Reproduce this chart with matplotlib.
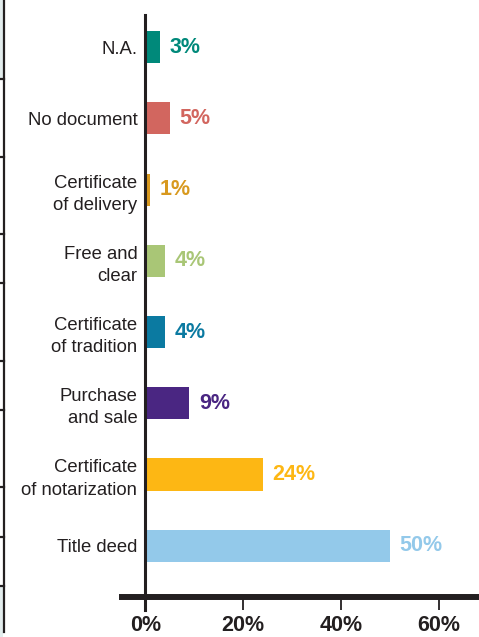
import matplotlib.pyplot as plt
from matplotlib.lines import Line2D
from matplotlib.patches import Rectangle

# Share of households by type of property document
categories = ['Title deed', 'Certificate\nof notarization', 'Purchase\nand sale',
              'Certificate\nof tradition', 'Free and\nclear', 'Certificate\nof delivery',
              'No document', 'N.A.']
values = [50, 24, 9, 4, 4, 1, 5, 3]
colors = ['#93C9EA', '#FDB714', '#4A2682', '#0B7AA1', '#A9C676', '#D8991E',
          '#D2665F', '#00897A']
xticks = [0, 20, 40, 60]
xtick_labels = ['0%', '20%', '40%', '60%']

ink = '#231F20'
font = 'Liberation Sans'
W, H = 479, 637

fig = plt.figure(figsize=(W / 100, H / 100), dpi=100)
ax = fig.add_axes([122 / W, 1 - 597 / H, 1 - 122 / W, (597 - 15) / H])

pos = list(range(len(categories)))
ax.barh(pos, values, height=0.45, color=colors)
for p, v, c in zip(pos, values, colors):
    ax.text(v + 1.9, p, f'{v}%', va='center', ha='left', color=c,
            fontsize=15.5, fontweight='bold', family=font)

ax.set_xlim(-4.8, 68.2)
ax.set_ylim(-0.72, 7.45)

ax.set_yticks(pos)
ax.set_yticklabels(categories, fontsize=13.3, color=ink, family=font, linespacing=1.4)
# labels sit just left of the 0% line, inside the axes box
ax.tick_params(axis='y', length=0, pad=-11)

ax.set_xticks(xticks)
ax.set_xticklabels(xtick_labels, fontsize=15.5, fontweight='bold', color=ink, family=font)
ax.tick_params(axis='x', length=9, width=1.3, color=ink, pad=4, direction='out')

for s in ['top', 'right', 'left']:
    ax.spines[s].set_visible(False)
ax.spines['bottom'].set_linewidth(4.3)
ax.spines['bottom'].set_color(ink)

# vertical baseline at 0%, running a little below the x axis
ax.axvline(0, ymin=-0.022, ymax=1, color=ink, lw=2.2, clip_on=False, zorder=3)

# edge of the neighbouring panel on the left
fig.add_artist(Rectangle((0, 1 - 79 / H), 3 / W, 79 / H, transform=fig.transFigure,
                         color='#E3EDED', lw=0))
fig.add_artist(Rectangle((0, 0), 3 / W, (H - 586) / H, transform=fig.transFigure,
                         color='#E3EDED', lw=0))
fig.add_artist(Line2D([3.5 / W, 3.5 / W], [1 - 632 / H, 1], transform=fig.transFigure,
                      color=ink, lw=1.6))
for yy in [79, 157, 234, 283, 361, 410, 487, 537, 586]:
    fig.add_artist(Line2D([0, 4 / W], [1 - yy / H, 1 - yy / H], transform=fig.transFigure,
                          color=ink, lw=1.6))

fig.savefig('out.png', dpi=100)
